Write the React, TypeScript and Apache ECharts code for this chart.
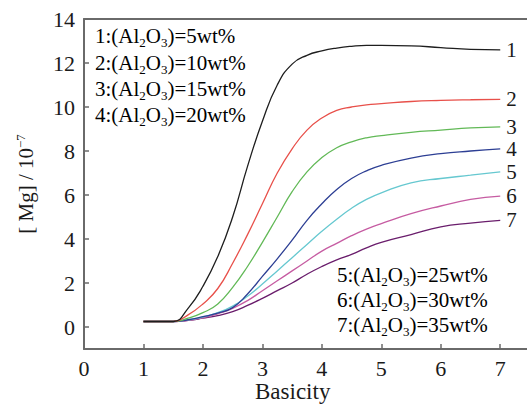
import React, { useEffect, useRef } from "react";
import * as echarts from "echarts";

const basicity = [1, 1.25, 1.5, 1.75, 2, 2.25, 2.5, 2.75, 3, 3.25, 3.5, 3.75, 4, 4.25, 4.5, 4.75, 5, 5.5, 6, 6.5, 7];
const curve1 = [0.25, 0.25, 0.25, 0.85, 1.85, 3.2, 5.0, 7.3, 9.35, 11.0, 11.95, 12.35, 12.55, 12.68, 12.76, 12.8, 12.8, 12.78, 12.7, 12.62, 12.6];
const curve2 = [0.25, 0.25, 0.25, 0.55, 1.05, 1.75, 2.9, 4.2, 5.6, 7.0, 8.1, 8.95, 9.5, 9.85, 10.0, 10.1, 10.15, 10.25, 10.3, 10.33, 10.35];
const curve3 = [0.25, 0.25, 0.25, 0.4, 0.65, 1.05, 1.8, 2.75, 3.85, 5.0, 6.15, 7.05, 7.7, 8.15, 8.42, 8.6, 8.7, 8.85, 8.95, 9.05, 9.1];
const curve4 = [0.25, 0.25, 0.25, 0.33, 0.47, 0.63, 0.88, 1.5, 2.3, 3.1, 3.95, 4.85, 5.6, 6.25, 6.75, 7.1, 7.35, 7.68, 7.88, 8.0, 8.1];
const curve5 = [0.25, 0.25, 0.25, 0.32, 0.45, 0.65, 0.95, 1.4, 1.95, 2.55, 3.15, 3.75, 4.35, 4.9, 5.4, 5.8, 6.1, 6.55, 6.75, 6.9, 7.05];
const curve6 = [0.25, 0.25, 0.25, 0.3, 0.42, 0.6, 0.85, 1.2, 1.65, 2.1, 2.55, 3.0, 3.45, 3.8, 4.15, 4.45, 4.7, 5.15, 5.5, 5.8, 5.95];
const curve7 = [0.25, 0.25, 0.25, 0.3, 0.4, 0.52, 0.7, 0.98, 1.3, 1.65, 2.0, 2.4, 2.75, 3.05, 3.3, 3.6, 3.85, 4.2, 4.55, 4.72, 4.85];

const curveNames = ["1", "2", "3", "4", "5", "6", "7"];
const curveValues = [curve1, curve2, curve3, curve4, curve5, curve6, curve7];
const curveColors = ["#1e1e1e", "#e8504a", "#62b957", "#2d3f94", "#66c8d0", "#c65ca2", "#6a1d6c"];

const alumina = ["5", "10", "15", "20", "25", "30", "35"];
const xTicks = [0, 1, 2, 3, 4, 5, 6, 7];
const yTicks = [0, 2, 4, 6, 8, 10, 12, 14];

const FONT = "Liberation Serif";

export default function App() {
  const ref = useRef<HTMLDivElement>(null);

  useEffect(() => {
    if (!ref.current) return;
    const chart = echarts.init(ref.current, null, { renderer: "svg" });

    const legendRich = {
      m: { fontSize: 21, fontFamily: FONT, color: "#1a1a1a", lineHeight: 26 },
      s: { fontSize: 13, fontFamily: FONT, color: "#1a1a1a", lineHeight: 13, verticalAlign: "bottom" as const },
    };
    const legendText = (i: number) =>
      `{m|${i + 1}:(Al}{s|2}{m|O}{s|3}{m|)=${alumina[i]}wt%}`;

    const topYs = [38, 65, 91, 117];
    const botYs = [277, 302, 327];
    const graphics: any[] = [];
    topYs.forEach((y, k) => {
      graphics.push({
        type: "text",
        left: 95,
        top: y - 13,
        style: { text: legendText(k), rich: legendRich },
      });
    });
    botYs.forEach((y, k) => {
      graphics.push({
        type: "text",
        left: 337,
        top: y - 13,
        style: { text: legendText(k + 4), rich: legendRich },
      });
    });
    graphics.push({
      type: "text",
      left: 255,
      top: 380,
      style: { text: "Basicity", fontSize: 23, fontFamily: FONT, fill: "#1a1a1a" },
    });

    chart.setOption({
      animation: false,
      backgroundColor: "#fff",
      grid: { left: 84, top: 19, right: 0, bottom: 56, containLabel: false },
      graphic: graphics,
      xAxis: [
        {
          type: "value",
          min: 0,
          max: 7.45,
          interval: 1,
          axisLine: { show: true, onZero: false, lineStyle: { color: "#6a6a6a", width: 2 } },
          axisTick: { show: true, inside: true, length: 5, customValues: [1, 2, 3, 4, 5, 6, 7], lineStyle: { color: "#6a6a6a", width: 1.5 } },
          axisLabel: { customValues: xTicks, margin: 8, fontSize: 22, fontFamily: FONT, color: "#1a1a1a" },
          splitLine: { show: false },
        },
        {
          type: "value",
          position: "top",
          min: 0,
          max: 7.45,
          axisLine: { show: true, onZero: false, lineStyle: { color: "#6a6a6a", width: 2 } },
          axisTick: { show: false },
          axisLabel: { show: false },
          splitLine: { show: false },
        },
      ],
      yAxis: {
        type: "value",
        min: -1,
        max: 14,
        interval: 1,
        axisLine: { show: true, onZero: false, lineStyle: { color: "#6a6a6a", width: 2 } },
        axisTick: { show: true, inside: true, length: 5, customValues: yTicks, lineStyle: { color: "#6a6a6a", width: 1.5 } },
        axisLabel: { customValues: yTicks, margin: 9, fontSize: 22, fontFamily: FONT, color: "#1a1a1a" },
        splitLine: { show: false },
        name: "{m|[ Mg] / 10}{p|−7}",
        nameLocation: "middle",
        nameRotate: 90,
        nameGap: 46,
        nameTextStyle: {
          rich: {
            m: { fontSize: 21, fontFamily: FONT, color: "#1a1a1a", lineHeight: 24 },
            p: { fontSize: 13, fontFamily: FONT, color: "#1a1a1a", lineHeight: 13, verticalAlign: "top" },
          },
        },
      },
      series: curveValues.map((vals, i) => ({
        type: "line",
        name: curveNames[i],
        xAxisIndex: 0,
        data: basicity.map((x, j) => [x, vals[j]]),
        smooth: 0.5,
        showSymbol: false,
        symbol: "none",
        lineStyle: { color: curveColors[i], width: 1.3 },
        itemStyle: { color: curveColors[i] },
        endLabel: {
          show: true,
          formatter: (p: any) => p.seriesName,
          distance: 6,
          fontSize: 21,
          fontFamily: FONT,
          color: "#1a1a1a",
        },
        z: 10 - i,
      })),
    });

    return () => chart.dispose();
  }, []);

  return (
    <div
      ref={ref}
      style={{ position: "fixed", left: 0, top: 0, width: 527, height: 405, background: "#fff" }}
    />
  );
}
